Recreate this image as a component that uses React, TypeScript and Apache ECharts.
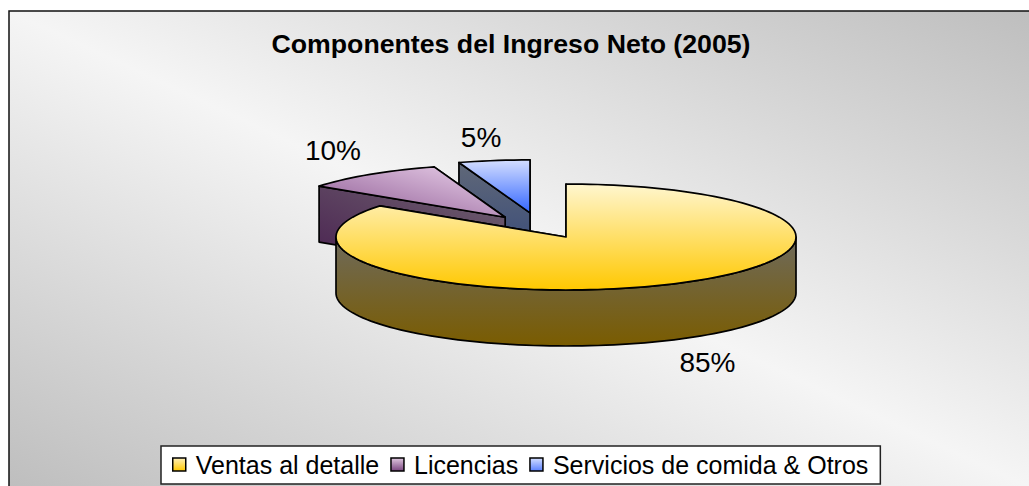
import React, { useEffect, useRef } from "react";
import * as echarts from "echarts";

const titleText = "Componentes del Ingreso Neto (2005)";
const categories = ["Ventas al detalle", "Licencias", "Servicios de comida & Otros"];
const shares = [85, 10, 5];
const shareLabels = ["85%", "10%", "5%"];

const W = 1029;
const H = 486;
const CX = 566;
const CY = 237;
const RX = 230;
const RY = 53;
const DEPTH = 56;
const EXPLODE_X = [0, 0.45, 1];
const EXPLODE_Y = [0, 0.46, 0.46];
const LABEL_SHIFT = [
  [37, 22],
  [-37, -24],
  [-13, -23],
];

const grad = (x: number, y: number, x2: number, y2: number, a: string, b: string) =>
  new echarts.graphic.LinearGradient(x, y, x2, y2, [
    { offset: 0, color: a },
    { offset: 1, color: b },
  ]);

const topFill = [
  () => grad(0, 0, 0, 1, "#fff6cf", "#ffc800"),
  () => grad(1, 0, 0, 1, "#ecd4ec", "#8a5590"),
  () => grad(0, 0, 0, 1, "#d4deff", "#3366ff"),
];
const wallFill = [
  () => grad(0, 0, 0, 1, "#6e6a5c", "#7a5c00"),
  () => grad(1, 0, 0, 1, "#6f6270", "#48204f"),
  () => grad(0, 0, 0, 1, "#606878", "#33477a"),
];
const legendFill = [
  () => grad(0, 0, 0, 1, "#fff0b8", "#ffc800"),
  () => grad(0, 0, 0, 1, "#e0c8e0", "#7a4580"),
  () => grad(0, 0, 0, 1, "#d4deff", "#5a80ff"),
];

const total = shares.reduce((s, v) => s + v, 0);

function rim(cx: number, cy: number, deg: number) {
  const t = (deg * Math.PI) / 180;
  return [cx + RX * Math.sin(t), cy - RY * Math.cos(t)];
}

function apex(index: number, midDeg: number) {
  const t = (midDeg * Math.PI) / 180;
  return [
    CX + RX * EXPLODE_X[index] * Math.sin(t),
    CY - RY * EXPLODE_Y[index] * Math.cos(t),
  ];
}

function arcPoints(cx: number, cy: number, a0: number, a1: number) {
  const pts: number[][] = [];
  const n = Math.max(2, Math.ceil(Math.abs(a1 - a0) / 2));
  for (let i = 0; i <= n; i++) pts.push(rim(cx, cy, a0 + ((a1 - a0) * i) / n));
  return pts;
}

function renderSlice(index: number) {
  return (_params: any, api: any) => {
    const value = api.value(0);
    const before = shares.slice(0, index).reduce((s, v) => s + v, 0);
    const a0 = (before / total) * 360;
    const a1 = a0 + (value / total) * 360;
    const mid = (a0 + a1) / 2;
    const [cx, cy] = apex(index, mid);
    const stroke = { stroke: "#000", lineWidth: 1.7, lineJoin: "round" as const };
    const children: any[] = [];
    const arc = arcPoints(cx, cy, a0, a1);

    const drop = (pts: number[][]) => pts.map((p) => [p[0], p[1] + DEPTH]);
    const front = arc.filter((_, i) => {
      const a = a0 + ((a1 - a0) * i) / (arc.length - 1);
      return a >= 90 && a <= 270;
    });
    const startPt = rim(cx, cy, a0);
    const endPt = rim(cx, cy, a1);
    children.push({
      type: "polygon",
      shape: { points: [[cx, cy], endPt, [endPt[0], endPt[1] + DEPTH], [cx, cy + DEPTH]] },
      style: { fill: wallFill[index](), ...stroke },
    });
    children.push({
      type: "polygon",
      shape: { points: [[cx, cy], startPt, [startPt[0], startPt[1] + DEPTH], [cx, cy + DEPTH]] },
      style: { fill: wallFill[index](), ...stroke },
    });
    if (front.length > 1) {
      children.push({
        type: "polygon",
        shape: { points: [...front, ...drop(front).reverse()] },
        style: { fill: wallFill[index](), ...stroke },
      });
    }
    children.push({
      type: "polygon",
      shape: { points: [[cx, cy], ...arc] },
      style: { fill: topFill[index](), ...stroke },
    });
    return { type: "group", children };
  };
}

function renderLabel(index: number) {
  return (_params: any, api: any) => {
    const value = api.value(0);
    const before = shares.slice(0, index).reduce((s, v) => s + v, 0);
    const mid = ((before + value / 2) / total) * 360;
    const [cx, cy] = apex(index, mid);
    const p = rim(cx, cy, mid);
    const lowered = Math.cos((mid * Math.PI) / 180) < 0 ? DEPTH : 0;
    return {
      type: "text",
      x: p[0] + LABEL_SHIFT[index][0],
      y: p[1] + lowered + LABEL_SHIFT[index][1],
      style: {
        text: shareLabels[index],
        font: "28px 'Liberation Sans'",
        fill: "#000",
        align: "center",
        verticalAlign: "middle",
      },
    };
  };
}

export default function App() {
  const ref = useRef<HTMLDivElement>(null);
  useEffect(() => {
    const chart = echarts.init(ref.current!, null, { renderer: "svg" });
    const order = [2, 1, 0];
    chart.setOption({
      animation: false,
      backgroundColor: "#fff",
      title: {
        text: titleText,
        left: 511,
        top: 30,
        textAlign: "center",
        padding: 0,
        textStyle: { fontFamily: "Liberation Sans", fontSize: 26.7, fontWeight: "bold", color: "#000" },
      },
      legend: {
        data: categories.map((name, i) => ({
          name,
          icon: "rect",
          itemStyle: { color: legendFill[i](), borderColor: "#000", borderWidth: 1.5 },
        })),
        left: 161,
        top: 446,
        orient: "horizontal",
        itemWidth: 13,
        itemHeight: 13,
        itemGap: 11,
        padding: [6, 12, 7, 11],
        backgroundColor: "#fff",
        borderColor: "#222",
        borderWidth: 1.5,
        borderRadius: 0,
        selectedMode: false,
        textStyle: { fontFamily: "Liberation Sans", fontSize: 25, color: "#000", padding: [0, 0, 0, 5] },
      },
      graphic: [
        {
          type: "rect",
          z: -10,
          silent: true,
          shape: { x: 9, y: 11, width: 1022, height: 477 },
          style: {
            fill: new echarts.graphic.LinearGradient(1, 0, 0, 1, [
              { offset: 0, color: "#bebebe" },
              { offset: 0.5, color: "#f5f5f5" },
              { offset: 1, color: "#bebebe" },
            ]),
            stroke: "#111",
            lineWidth: 1.5,
          },
        },
      ],
      series: [
        ...order.map((i) => ({
          type: "custom",
          name: categories[i],
          coordinateSystem: "none",
          renderItem: renderSlice(i),
          data: [[shares[i]]],
          z: 3 - i,
          itemStyle: { color: "#ccc" },
          silent: true,
        })),
        ...order.map((i) => ({
          type: "custom",
          name: categories[i] + " etiqueta",
          coordinateSystem: "none",
          renderItem: renderLabel(i),
          data: [[shares[i]]],
          z: 6,
          silent: true,
        })),
      ],
    });
    return () => chart.dispose();
  }, []);
  return <div ref={ref} style={{ position: "absolute", left: 0, top: 0, width: W, height: H }} />;
}
